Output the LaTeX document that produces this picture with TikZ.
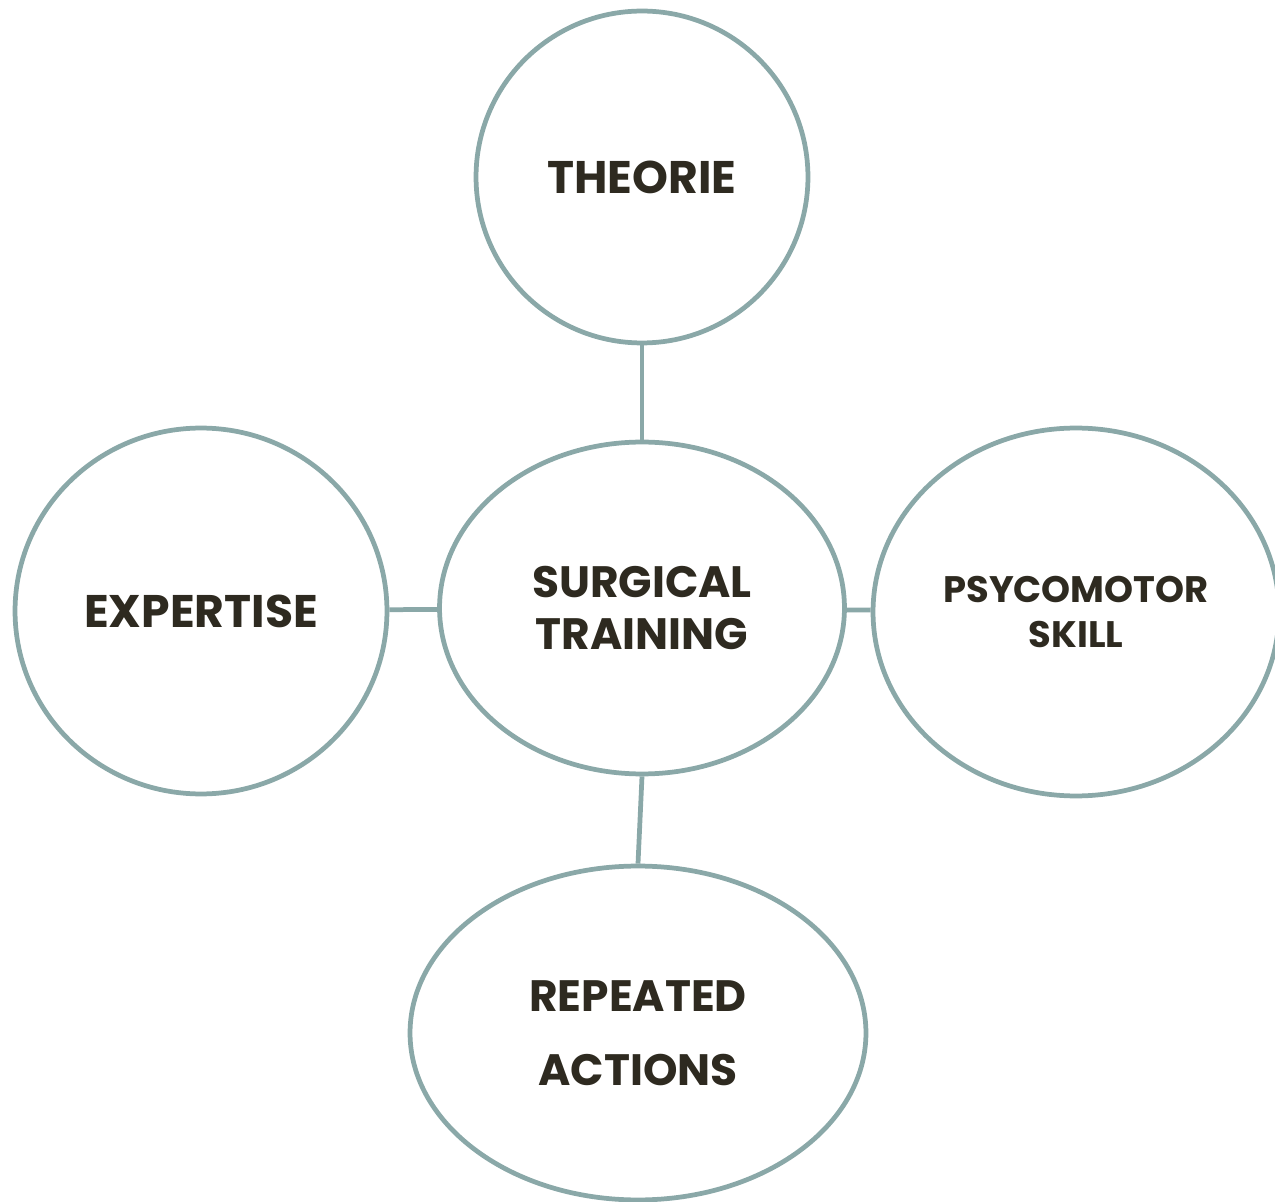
\documentclass[tikz,border=0pt]{standalone}
\usepackage{fontspec}
\setmainfont{Poppins}
\usetikzlibrary{shapes.geometric}
\definecolor{ringgray}{HTML}{8AA8A8}
\definecolor{inkdark}{HTML}{2E2A20}
\tikzset{
  bubble/.style={ellipse, draw=ringgray, line width=0.095cm, inner sep=0pt,
    align=center, text=inkdark, font=\fontsize{26}{30}\selectfont\bfseries},
  link/.style={draw=ringgray, line width=0.095cm}
}
\begin{document}
\begin{tikzpicture}[x=0.02cm, y=-0.02cm]
  \useasboundingbox (0,0) rectangle (1275,1202);
  \node[bubble, minimum width=6.64cm, minimum height=6.64cm] (theorie) at (642,177) {THEORIE};
  \node[bubble, minimum width=8.1cm, minimum height=6.64cm,
        font=\fontsize{25}{30}\selectfont\bfseries] (training) at (642,608) {SURGICAL\\TRAINING};
  \node[bubble, minimum width=7.44cm, minimum height=7.32cm] (expertise) at (201,611) {EXPERTISE};
  \node[bubble, minimum width=8.12cm, minimum height=7.36cm,
        font=\fontsize{21}{26}\selectfont\bfseries] (skill) at (1076,612) {PSYCOMOTOR\\SKILL};
  \node[bubble, minimum width=9.12cm, minimum height=6.68cm,
        font=\fontsize{25}{42}\selectfont\bfseries] (actions) at (638,1033) {REPEATED\\ACTIONS};
  \draw[link] (theorie) -- (training);
  \draw[link] (expertise) -- (training);
  \draw[link] (training) -- (skill);
  \draw[link] (training.south) -- (actions.north);
\end{tikzpicture}
\end{document}
